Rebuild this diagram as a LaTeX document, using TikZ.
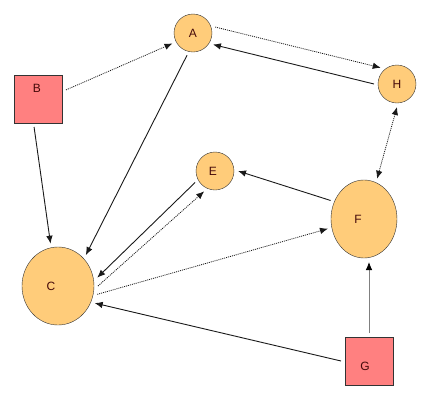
\documentclass[tikz,border=0pt]{standalone}
\usepackage{fontspec}
\setmainfont{Liberation Sans}
\usetikzlibrary{shapes.geometric,arrows.meta}
\definecolor{ballfill}{RGB}{255,204,122}
\definecolor{boxfill}{RGB}{255,128,128}
\definecolor{inkred}{RGB}{70,10,10}

\begin{document}
\begin{tikzpicture}[x=1pt,y=-1pt,>={Latex[length=8pt,width=6.5pt]},
    ball/.style={ellipse,draw=black!80,fill=ballfill,inner sep=0pt,outer sep=4pt},
    box/.style={rectangle,draw=black!80,fill=boxfill,minimum width=48pt,minimum height=48pt,inner sep=0pt,outer sep=4pt},
    tag/.style={text=inkred,font=\fontsize{12}{14}\selectfont},
    link/.style={->,line width=0.9pt,black!90},
    dotlink/.style={->,line width=0.8pt,dash pattern=on 1pt off 1pt,black!90}]
                \useasboundingbox (0,0) rectangle (432,408);
                % circles
                \node[ball,minimum width=38pt,minimum height=38pt,label={[tag]center:A}] (A) at (193,33) {};
                \node[ball,minimum width=38pt,minimum height=38pt,label={[tag]center:H}] (H) at (397,84) {};
                \node[ball,minimum width=38pt,minimum height=38pt,label={[tag,xshift=-2pt]center:E}] (E) at (215,171) {};
                \node[ball,minimum width=72pt,minimum height=78pt,label={[tag,xshift=-7pt]center:C}] (C) at (58,286) {};
                \node[ball,minimum width=66pt,minimum height=78pt,label={[tag,xshift=-6pt]center:F}] (F) at (364,219) {};
                % boxes
                \node[box,label={[tag,xshift=-1pt,yshift=11pt]center:B}] (B) at (38,99) {};
                \node[box,label={[tag,xshift=-4pt,yshift=-5pt]center:G}] (G) at (369,361) {};
                % links
                \draw[dotlink] (B.18) -- (A.207);
                \draw[dotlink] (A.15) -- (H.135);
                \draw[link] (H.180) -- (A.330);
                \draw[dotlink,<->] (H.south) -- (F.72);
                \draw[link] (A.255) -- (C.48);
                \draw[link] (B.262) -- (C.100);
                \draw[link] (E.210) -- (C.12);
                \draw[dotlink] (C.0) -- (E.242);
                \draw[dotlink] (C.-12) -- (F.195);
                \draw[link] (F.151) -- (E.0);
                \draw[-{Latex[length=8pt,width=6.5pt,black]},line width=0.8pt,gray] (G.north) -- (G.north |- F.south);
                \draw[link] (G.west) -- (C.-25);
            \end{tikzpicture}
\end{document}
